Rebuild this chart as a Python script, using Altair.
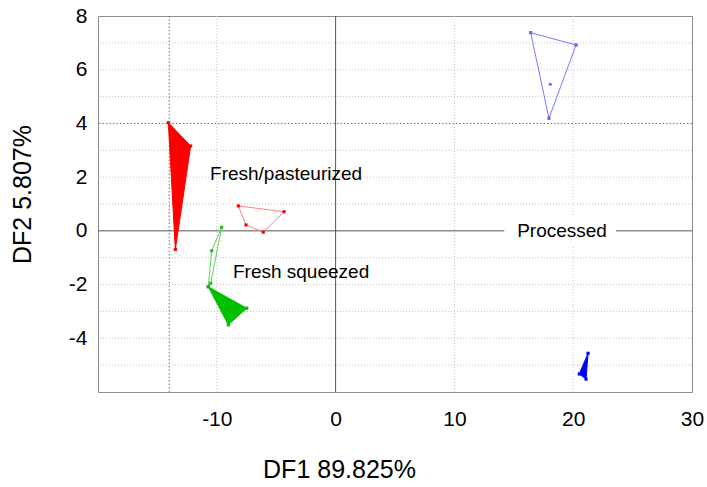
import altair as alt
import pandas as pd

# ---- data (DF1, DF2) ----
red_fill_x = [-14.08, -12.20, -13.49]
red_fill_y = [4.03, 3.16, -0.69]
red_open_x = [-8.19, -4.34, -6.09, -7.54]
red_open_y = [0.93, 0.71, -0.05, 0.22]
green_open_x = [-9.59, -10.43, -10.72, -10.51]
green_open_y = [0.13, -0.74, -2.08, -1.95]
green_fill_x = [-10.72, -7.48, -9.03]
green_fill_y = [-2.08, -2.88, -3.50]
blue_open_x = [16.42, 20.24, 17.96]
blue_open_y = [7.38, 6.92, 4.19]
blue_center_x = [18.07]
blue_center_y = [5.46]
blue_fill_x = [21.25, 20.51, 21.08]
blue_fill_y = [-4.56, -5.33, -5.52]

label_text = ["Fresh/pasteurized", "Fresh squeezed"]
label_x = [-10.57, -8.64]
label_y = [2.12, -1.53]
processed_text = ["Processed"]
processed_x = [19.06]
processed_y = [0.0]
processed_box_x = [14.2]
processed_box_x2 = [23.6]
processed_box_y = [-0.56]
processed_box_y2 = [0.56]

x_ticks = [-10, 0, 10, 20, 30]
y_ticks = [-4, -2, 0, 2, 4, 6, 8]
grid_y_light = [-5, -4, -3, -2, -1, 1, 2, 3, 5, 6, 7]
grid_x_light = [-10, 10, 20]
grid_x_dark = [-14]
grid_y_dark = [4]
axis_x_zero = [0]
axis_y_zero = [0]

FONT = "Liberation Sans"

xscale = alt.Scale(domain=[-20, 30], nice=False, zero=False)
yscale = alt.Scale(domain=[-6, 8], nice=False, zero=False)
xaxis = alt.Axis(values=x_ticks, grid=False, ticks=False, domain=False,
                 labelFontSize=21, labelPadding=16, title="DF1 89.825%",
                 labelExpr="'' + datum.value",
                 titleFontSize=25, titleX=241, titleY=77, titleBaseline="middle",
                 titleAlign="center", labelFlush=False)
yaxis = alt.Axis(values=y_ticks, grid=False, ticks=False, domain=False,
                 labelFontSize=21, labelPadding=11, title="DF2 5.807%",
                 labelExpr="'' + datum.value",
                 titleFontSize=25, titleX=-76, titleY=178, titleBaseline="middle",
                 titleAlign="center", titleAngle=270, labelFlush=False)


def X(f="x"):
    return alt.X(f, type="quantitative", scale=xscale, axis=xaxis)


def Y(f="y"):
    return alt.Y(f, type="quantitative", scale=yscale, axis=yaxis)


def poly_df(xs, ys):
    rows = [{"i": i, "x": a, "y": b} for i, (a, b) in enumerate(zip(xs, ys))]
    rows.append({"i": len(xs), "x": xs[0], "y": ys[0]})
    return pd.DataFrame(rows)


def pts_df(xs, ys):
    return pd.DataFrame({"x": xs, "y": ys})


layers = []

# grid lines
layers.append(alt.Chart(pd.DataFrame({"y": grid_y_light})).mark_rule(
    color="#c4c4c4", strokeDash=[1, 2], strokeWidth=1).encode(y=Y()))
layers.append(alt.Chart(pd.DataFrame({"x": grid_x_light})).mark_rule(
    color="#c4c4c4", strokeDash=[1, 2], strokeWidth=1).encode(x=X()))
layers.append(alt.Chart(pd.DataFrame({"x": grid_x_dark})).mark_rule(
    color="#707070", strokeDash=[1.5, 2], strokeWidth=1).encode(x=X()))
layers.append(alt.Chart(pd.DataFrame({"y": grid_y_dark})).mark_rule(
    color="#707070", strokeDash=[1.5, 2], strokeWidth=1).encode(y=Y()))
layers.append(alt.Chart(pd.DataFrame({"x": axis_x_zero})).mark_rule(
    color="#555555", strokeWidth=1).encode(x=X()))
layers.append(alt.Chart(pd.DataFrame({"y": axis_y_zero})).mark_rule(
    color="#555555", strokeWidth=1).encode(y=Y()))

# white box behind "Processed"
layers.append(alt.Chart(pd.DataFrame({"x": processed_box_x, "x2": processed_box_x2,
                                      "y": processed_box_y, "y2": processed_box_y2}))
              .mark_rect(fill="white", stroke=None)
              .encode(x=X(), x2="x2", y=Y(), y2="y2"))

# polygons
polys = [
    (red_fill_x, red_fill_y, "#ff0000", "#ff0000", True),
    (red_open_x, red_open_y, "#ff8080", "#ff0000", False),
    (green_open_x, green_open_y, "#60d060", "#20c020", False),
    (green_fill_x, green_fill_y, "#00c000", "#00c000", True),
    (blue_open_x, blue_open_y, "#7878ff", "#6060ff", False),
    (blue_fill_x, blue_fill_y, "#0000ff", "#0000ff", True),
]
for xs, ys, line_col, pt_col, filled in polys:
    if filled:
        m = alt.Chart(poly_df(xs, ys)).mark_line(stroke=line_col, fill=line_col,
                                                  strokeWidth=1)
    else:
        m = alt.Chart(poly_df(xs, ys)).mark_line(stroke=line_col, strokeWidth=1)
    layers.append(m.encode(x=X(), y=Y(), order=alt.Order("i:Q")))
    layers.append(alt.Chart(pts_df(xs, ys)).mark_square(size=10, color=pt_col,
                                                        opacity=1)
                  .encode(x=X(), y=Y()))

layers.append(alt.Chart(pts_df(blue_center_x, blue_center_y)).mark_circle(
    size=10, color="#6060ff", opacity=1).encode(x=X(), y=Y()))

# labels
layers.append(alt.Chart(pd.DataFrame({"x": label_x, "y": label_y, "t": label_text}))
              .mark_text(align="left", baseline="middle", fontSize=19, font=FONT,
                         color="black")
              .encode(x=X(), y=Y(), text="t:N"))
layers.append(alt.Chart(pd.DataFrame({"x": processed_x, "y": processed_y,
                                      "t": processed_text}))
              .mark_text(align="center", baseline="middle", fontSize=19, font=FONT,
                         color="black")
              .encode(x=X(), y=Y(), text="t:N"))

chart = alt.layer(*layers).properties(
    width=594, height=376,
    padding={"left": 98, "top": 16, "right": 15, "bottom": 95},
    autosize=alt.AutoSizeParams(type="none"),
    background="white",
).configure_view(
    stroke="#8c8c8c", strokeWidth=1
).configure_axis(
    labelFont=FONT, titleFont=FONT, labelColor="black", titleColor="black",
    titleFontWeight="normal"
)

chart.save("out.html", embed_options={"renderer": "svg", "actions": False})
